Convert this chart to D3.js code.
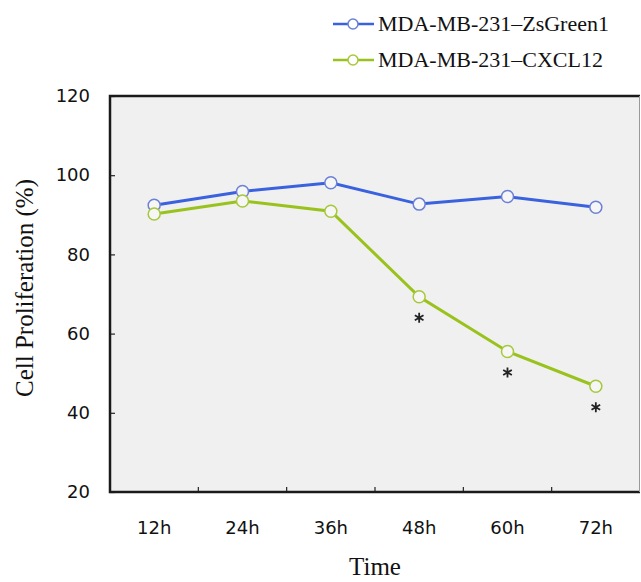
<!DOCTYPE html>
<html>
<head>
<meta charset="utf-8">
<script src="https://cdn.jsdelivr.net/npm/d3@7"></script>
<style>
  body { margin: 0; background: #fff; }
  svg { display: block; }
</style>
</head>
<body>
<svg id="chart" width="641" height="582"></svg>
<script>
// values
var timePoints = ["12h", "24h", "36h", "48h", "60h", "72h"];
var zsGreen = [92.4, 95.9, 98.1, 92.7, 94.6, 91.9];
var cxcl12 = [90.2, 93.5, 90.9, 69.3, 55.5, 46.7];
var starred = ["48h", "60h", "72h"];
var yTicks = [20, 40, 60, 80, 100, 120];
var seriesNames = ["MDA-MB-231\u2013ZsGreen1", "MDA-MB-231\u2013CXCL12"];
var seriesColors = ["#3a62de", "#99c21c"];
var markerColors = ["#6b80d6", "#a6c83a"];

var svg = d3.select("#chart");
// plot box (window.top is read-only, so keep these names distinct)
var plotL = 110, plotR = 640, plotT = 96, plotB = 492;

var x = d3.scaleBand().domain(timePoints).range([plotL, plotR]);
var y = d3.scaleLinear().domain([20, 120]).range([plotB, plotT]);

// plot background
svg.append("rect")
  .attr("x", plotL).attr("y", plotT)
  .attr("width", plotR - plotL).attr("height", plotB - plotT)
  .attr("fill", "#f0f0f0");

// y axis
var yAxis = svg.append("g")
  .attr("transform", "translate(" + plotL + ",0)")
  .call(d3.axisLeft(y).tickValues(yTicks).tickSize(-5).tickPadding(20));
yAxis.select(".domain").remove();
yAxis.selectAll("text")
  .attr("font-family", "DejaVu Sans, sans-serif")
  .attr("font-size", 18)
  .attr("fill", "#111");
yAxis.selectAll("line").attr("stroke", "#222").attr("stroke-width", 1.2);

// x axis labels at band centres
var xAxis = svg.append("g")
  .attr("transform", "translate(0," + plotB + ")")
  .call(d3.axisBottom(x).tickSize(0).tickPadding(29));
xAxis.select(".domain").remove();
xAxis.selectAll("text")
  .attr("font-family", "DejaVu Sans, sans-serif")
  .attr("font-size", 18)
  .attr("fill", "#111");

// x ticks sit on the band boundaries
svg.append("g").selectAll("line")
  .data(timePoints.slice(1))
  .join("line")
  .attr("x1", function(d) { return x(d); })
  .attr("x2", function(d) { return x(d); })
  .attr("y1", plotB)
  .attr("y2", plotB - 5)
  .attr("stroke", "#222")
  .attr("stroke-width", 1.2);

// frame
svg.append("path")
  .attr("d", "M" + plotR + "," + plotT + "H" + plotL + "V" + plotB + "H" + plotR)
  .attr("fill", "none").attr("stroke", "#1a1a1a").attr("stroke-width", 2.5);
svg.append("line")
  .attr("x1", plotR - 0.5).attr("x2", plotR - 0.5)
  .attr("y1", plotT).attr("y2", plotB)
  .attr("stroke", "#999").attr("stroke-width", 1);

// series
var series = [zsGreen, cxcl12];
series.forEach(function(vals, i) {
  var pts = timePoints.map(function(t, j) { return [x(t) + x.bandwidth() / 2, y(vals[j])]; });
  svg.append("path")
    .datum(pts)
    .attr("d", d3.line())
    .attr("fill", "none")
    .attr("stroke", seriesColors[i])
    .attr("stroke-width", 3);
  svg.append("g").selectAll("circle")
    .data(pts)
    .join("circle")
    .attr("cx", function(d) { return d[0]; })
    .attr("cy", function(d) { return d[1]; })
    .attr("r", 6)
    .attr("fill", "#f6f6f6")
    .attr("stroke", markerColors[i])
    .attr("stroke-width", 1.5);
});

// significance marks
svg.append("g").selectAll("path")
  .data(starred)
  .join("path")
  .attr("transform", function(d) {
    return "translate(" + (x(d) + x.bandwidth() / 2) + "," + (y(cxcl12[timePoints.indexOf(d)]) + 21) + ")";
  })
  .attr("d", d3.symbol(d3.symbolAsterisk, 70))
  .attr("fill", "none")
  .attr("stroke", "#222")
  .attr("stroke-width", 1.8);

// axis titles
svg.append("text")
  .attr("x", (plotL + plotR) / 2).attr("y", 575)
  .attr("text-anchor", "middle")
  .attr("font-family", "Liberation Serif, serif")
  .attr("font-size", 25)
  .attr("fill", "#111")
  .text("Time");

svg.append("text")
  .attr("transform", "translate(33," + ((plotT + plotB) / 2 - 6) + ") rotate(-90)")
  .attr("text-anchor", "middle")
  .attr("font-family", "Liberation Serif, serif")
  .attr("font-size", 25)
  .attr("fill", "#111")
  .text("Cell Proliferation (%)");

// legend
var legend = svg.append("g");
seriesNames.forEach(function(name, i) {
  var ly = 24 + i * 36;
  legend.append("line")
    .attr("x1", 333).attr("x2", 374)
    .attr("y1", ly).attr("y2", ly)
    .attr("stroke", seriesColors[i]).attr("stroke-width", 2.5);
  legend.append("circle")
    .attr("cx", 353).attr("cy", ly).attr("r", 5)
    .attr("fill", "#fff").attr("stroke", markerColors[i]).attr("stroke-width", 1.5);
  legend.append("text")
    .attr("x", 378).attr("y", ly + 7)
    .attr("font-family", "Liberation Serif, serif")
    .attr("font-size", 22)
    .attr("fill", "#111")
    .text(name);
});
</script>
</body>
</html>
